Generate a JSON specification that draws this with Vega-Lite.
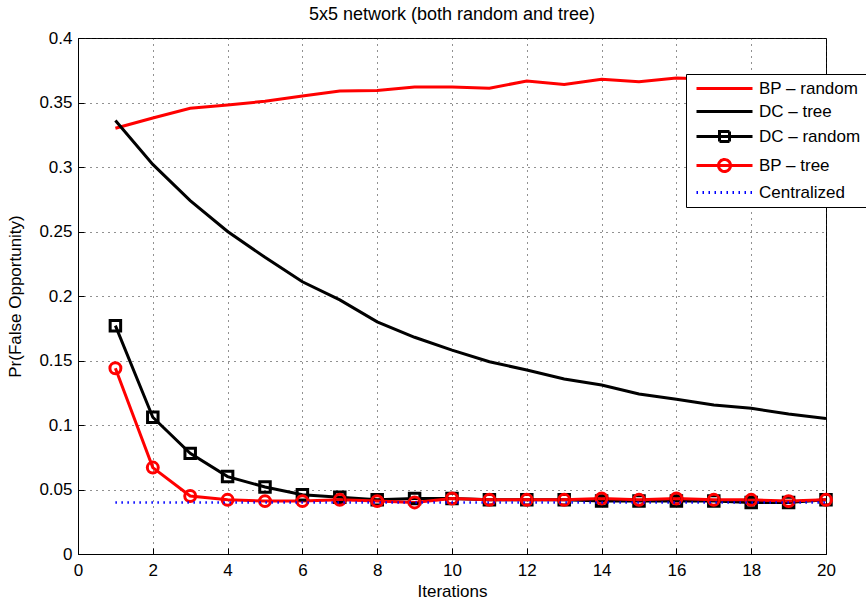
{
  "$schema": "https://vega.github.io/schema/vega-lite/v6.json",
  "width": 748,
  "height": 516,
  "autosize": {"type": "none"},
  "padding": {"left": 78, "top": 38, "right": 40, "bottom": 52},
  "title": {"text": "5x5 network (both random and tree)", "fontSize": 18, "font": "Liberation Sans", "fontWeight": "normal", "color": "#000", "offset": 5},
  "config": {
    "font": "Liberation Sans",
    "view": {"stroke": "#000", "strokeWidth": 1},
    "axis": {"labelFontSize": 17, "titleFontSize": 17, "titleFontWeight": "normal", "labelColor": "#000", "titleColor": "#000", "domainColor": "#000", "tickColor": "#000", "gridColor": "#222", "gridDash": [1, 5], "gridWidth": 1, "tickSize": -6, "labelPadding": 12, "labelFlush": false, "labelOverlap": false}
  },
  "data": {"values": [
    {"it":1,"s":"BP – random","v":0.330},{"it":2,"s":"BP – random","v":0.338},{"it":3,"s":"BP – random","v":0.3455},{"it":4,"s":"BP – random","v":0.348},{"it":5,"s":"BP – random","v":0.351},{"it":6,"s":"BP – random","v":0.355},{"it":7,"s":"BP – random","v":0.359},{"it":8,"s":"BP – random","v":0.3593},{"it":9,"s":"BP – random","v":0.362},{"it":10,"s":"BP – random","v":0.362},{"it":11,"s":"BP – random","v":0.361},{"it":12,"s":"BP – random","v":0.3667},{"it":13,"s":"BP – random","v":0.364},{"it":14,"s":"BP – random","v":0.368},{"it":15,"s":"BP – random","v":0.366},{"it":16,"s":"BP – random","v":0.369},{"it":17,"s":"BP – random","v":0.368},{"it":18,"s":"BP – random","v":0.369},{"it":19,"s":"BP – random","v":0.368},{"it":20,"s":"BP – random","v":0.369},
    {"it":1,"s":"DC – tree","v":0.336},{"it":2,"s":"DC – tree","v":0.302},{"it":3,"s":"DC – tree","v":0.274},{"it":4,"s":"DC – tree","v":0.250},{"it":5,"s":"DC – tree","v":0.230},{"it":6,"s":"DC – tree","v":0.211},{"it":7,"s":"DC – tree","v":0.197},{"it":8,"s":"DC – tree","v":0.180},{"it":9,"s":"DC – tree","v":0.168},{"it":10,"s":"DC – tree","v":0.158},{"it":11,"s":"DC – tree","v":0.149},{"it":12,"s":"DC – tree","v":0.1426},{"it":13,"s":"DC – tree","v":0.1357},{"it":14,"s":"DC – tree","v":0.131},{"it":15,"s":"DC – tree","v":0.124},{"it":16,"s":"DC – tree","v":0.120},{"it":17,"s":"DC – tree","v":0.1155},{"it":18,"s":"DC – tree","v":0.113},{"it":19,"s":"DC – tree","v":0.1085},{"it":20,"s":"DC – tree","v":0.105},
    {"it":1,"s":"DC – random","v":0.177},{"it":2,"s":"DC – random","v":0.106},{"it":3,"s":"DC – random","v":0.078},{"it":4,"s":"DC – random","v":0.060},{"it":5,"s":"DC – random","v":0.052},{"it":6,"s":"DC – random","v":0.046},{"it":7,"s":"DC – random","v":0.044},{"it":8,"s":"DC – random","v":0.042},{"it":9,"s":"DC – random","v":0.043},{"it":10,"s":"DC – random","v":0.043},{"it":11,"s":"DC – random","v":0.042},{"it":12,"s":"DC – random","v":0.042},{"it":13,"s":"DC – random","v":0.042},{"it":14,"s":"DC – random","v":0.041},{"it":15,"s":"DC – random","v":0.041},{"it":16,"s":"DC – random","v":0.041},{"it":17,"s":"DC – random","v":0.041},{"it":18,"s":"DC – random","v":0.040},{"it":19,"s":"DC – random","v":0.040},{"it":20,"s":"DC – random","v":0.042},
    {"it":1,"s":"BP – tree","v":0.144},{"it":2,"s":"BP – tree","v":0.067},{"it":3,"s":"BP – tree","v":0.045},{"it":4,"s":"BP – tree","v":0.042},{"it":5,"s":"BP – tree","v":0.041},{"it":6,"s":"BP – tree","v":0.041},{"it":7,"s":"BP – tree","v":0.042},{"it":8,"s":"BP – tree","v":0.041},{"it":9,"s":"BP – tree","v":0.040},{"it":10,"s":"BP – tree","v":0.043},{"it":11,"s":"BP – tree","v":0.042},{"it":12,"s":"BP – tree","v":0.042},{"it":13,"s":"BP – tree","v":0.042},{"it":14,"s":"BP – tree","v":0.043},{"it":15,"s":"BP – tree","v":0.042},{"it":16,"s":"BP – tree","v":0.043},{"it":17,"s":"BP – tree","v":0.042},{"it":18,"s":"BP – tree","v":0.042},{"it":19,"s":"BP – tree","v":0.041},{"it":20,"s":"BP – tree","v":0.042},
    {"it":1,"s":"Centralized","v":0.04},{"it":2,"s":"Centralized","v":0.04},{"it":3,"s":"Centralized","v":0.04},{"it":4,"s":"Centralized","v":0.04},{"it":5,"s":"Centralized","v":0.04},{"it":6,"s":"Centralized","v":0.04},{"it":7,"s":"Centralized","v":0.04},{"it":8,"s":"Centralized","v":0.04},{"it":9,"s":"Centralized","v":0.04},{"it":10,"s":"Centralized","v":0.04},{"it":11,"s":"Centralized","v":0.04},{"it":12,"s":"Centralized","v":0.04},{"it":13,"s":"Centralized","v":0.04},{"it":14,"s":"Centralized","v":0.04},{"it":15,"s":"Centralized","v":0.04},{"it":16,"s":"Centralized","v":0.04},{"it":17,"s":"Centralized","v":0.04},{"it":18,"s":"Centralized","v":0.04},{"it":19,"s":"Centralized","v":0.04},{"it":20,"s":"Centralized","v":0.04}
  ]},
  "encoding": {
    "x": {"field": "it", "type": "quantitative", "scale": {"domain": [0, 20], "nice": false}, "axis": {"values": [0,2,4,6,8,10,12,14,16,18,20], "title": "Iterations", "titlePadding": 5, "labelPadding": 14}},
    "y": {"field": "v", "type": "quantitative", "scale": {"domain": [0, 0.4], "nice": false}, "axis": {"values": [0,0.05,0.1,0.15,0.2,0.25,0.3,0.35,0.4], "format": ".2~f", "title": "Pr(False Opportunity)", "titlePadding": 14}}
  },
  "layer": [
    {
      "transform": [{"filter": "datum.s != 'Centralized'"}],
      "mark": {"type": "line", "strokeWidth": 3},
      "encoding": {
        "color": {"field": "s", "type": "nominal",
          "scale": {"domain": ["BP – random", "DC – tree", "DC – random", "BP – tree", "Centralized"], "range": ["#ff0000", "#000000", "#000000", "#ff0000", "#0000ff"]},
          "legend": {"title": null, "orient": "none", "legendX": 608, "legendY": 36,
            "fillColor": "#fff", "strokeColor": "#000", "padding": 6,
            "labelFontSize": 17, "labelColor": "#000", "labelFont": "Liberation Sans",
            "symbolSize": 100, "symbolStrokeWidth": 3, "symbolOffset": 24, "labelOffset": 26, "rowPadding": 5, "labelLimit": 200,
            "encode": {"symbols": {"update": {
              "shape": {"signal": "datum.value == 'DC – random' ? 'M-5.6,0H5.6M-1,-1H1V1H-1Z' : datum.value == 'BP – tree' ? 'M-5.6,0H5.6M-1.2,0A1.2,1.2 0 1,0 1.2,0A1.2,1.2 0 1,0 -1.2,0' : 'M-5.6,0H5.6'"},
              "strokeDash": {"signal": "datum.value == 'Centralized' ? [1.5, 4.5] : [1, 0]"},
              "fill": {"value": "transparent"}
            }}}
          }}
      }
    },
    {
      "transform": [{"filter": "datum.s == 'DC – random'"}],
      "mark": {"type": "point", "shape": "square", "filled": false, "color": "#000", "strokeWidth": 3, "size": 110, "opacity": 1}
    },
    {
      "transform": [{"filter": "datum.s == 'BP – tree'"}],
      "mark": {"type": "point", "shape": "circle", "filled": false, "color": "#ff0000", "strokeWidth": 3, "size": 120, "opacity": 1}
    },
    {
      "transform": [{"filter": "datum.s == 'Centralized'"}],
      "mark": {"type": "line", "color": "#0000ff", "strokeWidth": 2.5, "strokeDash": [1.5, 4.5]}
    }
  ]
}
